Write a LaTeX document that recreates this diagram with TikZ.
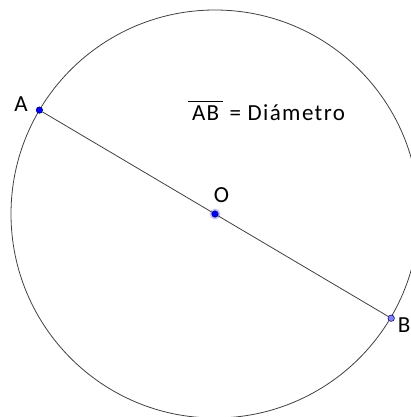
\documentclass[tikz,border=0pt]{standalone}
\usepackage{fontspec}
\setmainfont{Carlito}
\usetikzlibrary{positioning}

\begin{document}
\begin{tikzpicture}[x=1pt,y=-1pt,
  line/.style={draw=black!75,line width=0.8pt},
  dot/.style={circle,draw=blue!35!black,fill=blue,line width=0.5pt,inner sep=0pt,minimum size=6.5pt},
  dotlight/.style={dot,fill=blue!50},
  halo/.style={circle,fill=blue!22,inner sep=0pt,minimum size=11pt},
  lbl/.style={inner sep=0pt,font=\fontsize{23}{27}\selectfont\addfontfeature{LetterSpace=6}}]
  \useasboundingbox (0,0) rectangle (411,417);
  \clip (0,0) rectangle (411,417);

  % circle and diameter
  \coordinate (c) at (215,214);
  \draw[line] (c) circle[radius=204];
  \node[halo] (h) at (c) {};
  \node[dot] (O) at (c) {};
  \node[dot] (A) at (39.4,110.1) {};
  \node[dotlight] (B) at (391.2,318.2) {};
  \draw[line] (A) -- (O);
  \draw[line] (O) -- (B);

  % labels
  \node[lbl] (la) at (21,104) {A};
  \node[lbl] (lo) at (221.5,195.5) {O};
  \node[lbl,anchor=east] (lb) at (410.5,325.5) {B};
  \node[lbl,anchor=base west] (def) at (188,121)
    {$\overline{\mbox{\,AB\,\rule{0pt}{0.78em}}}$\ = Diámetro};
\end{tikzpicture}
\end{document}
